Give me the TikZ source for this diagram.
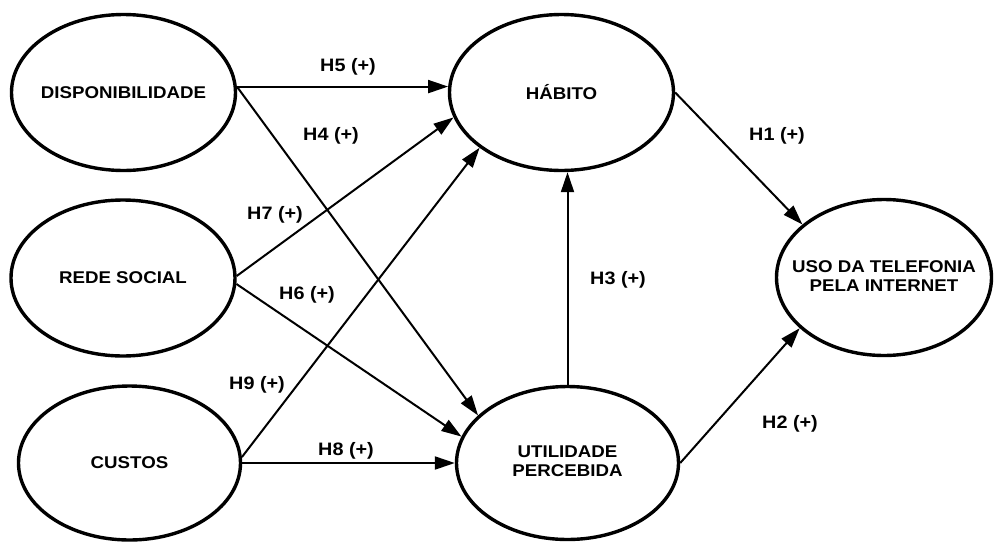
\documentclass[tikz,border=0pt]{standalone}
\usepackage{fontspec}
\newfontfamily\dfont[FakeStretch=1.1]{Liberation Sans}
\usetikzlibrary{shapes.geometric,arrows.meta}
\begin{document}
\begin{tikzpicture}[x=1pt,y=-1pt,
  construct/.style={ellipse,draw,line width=3.4pt,inner sep=0pt,
    font=\dfont\bfseries\fontsize{17}{20}\selectfont},
  hyp/.style={font=\dfont\bfseries\fontsize{18}{20}\selectfont,inner sep=0pt},
  link/.style={line width=2pt,-{Triangle[length=20pt,width=13pt]}}]
\useasboundingbox (0,0) rectangle (995,544);
\node[construct,minimum width=224pt,minimum height=156pt] (disp) at (123.5,92.5) {\makebox[0pt]{DISPONIBILIDADE}};
\node[construct,minimum width=224pt,minimum height=156pt] (rede) at (123,278) {\makebox[0pt]{REDE SOCIAL}};
\node[construct,minimum width=222pt,minimum height=154pt] (custos) at (129.5,463) {\makebox[0pt]{CUSTOS}};
\node[construct,minimum width=224pt,minimum height=156pt] (hab) at (561.5,92.5) {\makebox[0pt]{HÁBITO}};
\node[construct,minimum width=222pt,minimum height=153pt] (util) at (567.5,463) {\makebox[0pt]{\begin{tabular}{@{}c@{}}UTILIDADE\\[-1pt]PERCEBIDA\end{tabular}}};
\node[construct,minimum width=215pt,minimum height=156pt] (uso) at (884,277.5) {\makebox[0pt]{\begin{tabular}{@{}c@{}}USO DA TELEFONIA\\[-1pt]PELA INTERNET\end{tabular}}};

\draw[link] (disp.3) -- (hab.177);
\draw[link] (disp.3) -- (util.152.6);
\draw[link] (rede.1) -- (hab.193.2);
\draw[link] (rede.-3.5) -- (util.166.4);
\draw[link] (custos.3) -- (hab.214.2);
\draw[link] (custos.0) -- (util.180);
\draw[link] (util.north) -- (util.north |- hab.south);
\draw[link] (hab.0) -- (uso.147.5);
\draw[link] (util.0) -- (uso.211);

\node[hyp] (h5) at (348,67) {H5 (+)};
\node[hyp] (h4) at (331,136) {H4 (+)};
\node[hyp] (h7) at (275,215) {H7 (+)};
\node[hyp] (h6) at (307,295) {H6 (+)};
\node[hyp] (h9) at (257,385) {H9 (+)};
\node[hyp] (h8) at (346,451) {H8 (+)};
\node[hyp] (h3) at (618,280) {H3 (+)};
\node[hyp] (h1) at (777,136) {H1 (+)};
\node[hyp] (h2) at (790,424) {H2 (+)};
\end{tikzpicture}
\end{document}
